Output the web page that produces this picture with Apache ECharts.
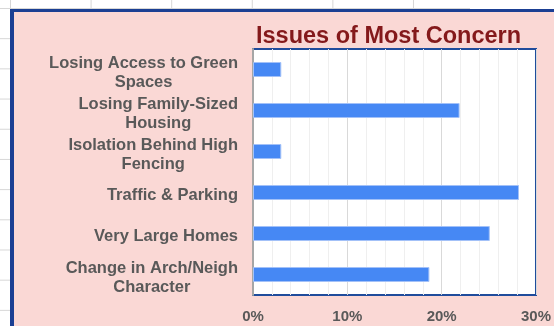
<!DOCTYPE html>
<html>
<head>
<meta charset="utf-8">
<script src="https://cdn.jsdelivr.net/npm/echarts@6/dist/echarts.min.js"></script>
<style>
  html, body { margin: 0; padding: 0; }
  body { width: 554px; height: 326px; overflow: hidden; position: relative; background: #fff; }
  .sheet {
    position: absolute; left: 0; top: 0; width: 470px; height: 326px;
    background-image:
      linear-gradient(to bottom, #d6d6d6 1px, transparent 1px),
      linear-gradient(to right, #d6d6d6 1px, transparent 1px);
    background-size: 100% 30.2px, 80.6px 100%;
    background-position: 0 8px, 10px 0;
  }
  .box {
    position: absolute; left: 10px; top: 9px; width: 600px; height: 400px;
    border-left: 4px solid #1b3f93; border-top: 3px solid #1b3f93;
    background: #fad8d5;
  }
  #main { position: absolute; left: 0; top: 0; width: 554px; height: 326px; }
</style>
</head>
<body>
<div class="sheet"></div>
<div class="box"></div>
<div id="main"></div>
<script>
  // chart data
  var issues = [
    'Losing Access to Green\nSpaces',
    'Losing Family-Sized\nHousing',
    'Isolation Behind High\nFencing',
    'Traffic & Parking',
    'Very Large Homes',
    'Change in Arch/Neigh\nCharacter'
  ];
  var shares = [3.0, 21.9, 3.0, 28.2, 25.1, 18.7];
  var xTicks = [0, 10, 20, 30];

  var labelColor = '#595959';
  var chart = echarts.init(document.getElementById('main'));
  chart.setOption({
    animation: false,
    backgroundColor: 'transparent',
    title: {
      text: 'Issues of Most Concern',
      left: 251,
      top: 20,
      textStyle: {
        color: '#84191b',
        fontSize: 23.5,
        fontWeight: 'bold',
        fontFamily: 'Liberation Sans'
      }
    },
    grid: {
      left: 253,
      top: 49,
      width: 283,
      height: 246,
      show: true,
      backgroundColor: '#ffffff',
      borderColor: '#1f4c9c',
      borderWidth: 2
    },
    xAxis: {
      type: 'value',
      min: xTicks[0],
      max: xTicks[xTicks.length - 1],
      interval: 10,
      axisLine: { show: false },
      axisTick: { show: false },
      axisLabel: {
        margin: 14,
        formatter: '{value}%',
        color: labelColor,
        fontSize: 15,
        fontWeight: 'bold',
        fontFamily: 'Liberation Sans'
      },
      splitLine: { show: true, lineStyle: { color: '#d9d9d9', width: 1 } },
      minorTick: { show: false, splitNumber: 5 },
      minorSplitLine: { show: true, lineStyle: { color: '#efefef', width: 1 } }
    },
    yAxis: {
      type: 'category',
      inverse: true,
      data: issues,
      axisLine: { show: true, lineStyle: { color: '#a6a6a6', width: 2 } },
      axisTick: { show: false },
      axisLabel: {
        margin: 15,
        padding: [6, 0, 0, 0],
        formatter: function (v) {
          return v.split('\n').map(function (s) { return '{a|' + s + '}'; }).join('\n');
        },
        rich: {
          a: {
            align: 'center',
            color: labelColor,
            fontSize: 16.5,
            fontWeight: 'bold',
            fontFamily: 'Liberation Sans',
            lineHeight: 19
          }
        }
      }
    },
    series: [{
      type: 'bar',
      data: shares,
      barWidth: 15,
      itemStyle: {
        color: '#4688f4',
        borderColor: '#a3c1f8',
        borderWidth: 1
      }
    }]
  });
</script>
</body>
</html>
